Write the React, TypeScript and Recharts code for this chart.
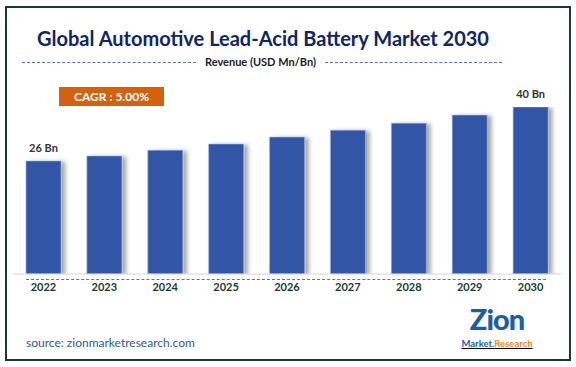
import { BarChart, Bar, XAxis, YAxis, LabelList } from 'recharts';

const years = ['2022', '2023', '2024', '2025', '2026', '2027', '2028', '2029', '2030'];
const revenue = [26, 27.3, 28.8, 30.4, 32.2, 34.0, 35.8, 37.9, 40];
const labels = ['26 Bn', '', '', '', '', '', '', '', '40 Bn'];

// the source chart's value axis does not start at zero
const AXIS_MIN = -3.3;

const data = years.map((year, i) => ({ year, value: revenue[i], label: labels[i] }));

const FONT = 'Lato, "Open Sans", sans-serif';
const BAR_COLOR = '#3257a5';
const DASH = '#4a74c4';

const dashed = (left: number, top: number, width: number) => (
  <div
    style={{
      position: 'absolute',
      left,
      top,
      width,
      height: 0,
      borderTop: `1px dashed ${DASH}`,
    }}
  />
);

const renderLabel = (props: any) => {
  const { x, y, width, value } = props;
  if (!value) return null;
  return (
    <text
      x={x + width / 2}
      y={y - 9}
      textAnchor="middle"
      fill="#333"
      fontSize={11}
      fontWeight={700}
      fontFamily={FONT}
    >
      {value}
    </text>
  );
};

export default function App() {
  return (
    <div
      style={{
        position: 'absolute',
        left: 0,
        top: 0,
        width: 576,
        height: 367,
        background: '#fff',
        fontFamily: FONT,
      }}
    >
      <div
        style={{
          position: 'absolute',
          left: 5,
          top: 6,
          width: 562,
          height: 351,
          border: '2px solid #1d3b2d',
        }}
      />
      <div
        style={{
          position: 'absolute',
          left: 0,
          width: 526,
          top: 26,
          textAlign: 'center',
          fontSize: 20,
          fontWeight: 700,
          color: '#0f2566',
        }}
      >
        Global Automotive Lead-Acid Battery Market 2030
      </div>
      {dashed(22, 62, 174)}
      {dashed(325, 62, 177)}
      <div
        style={{
          position: 'absolute',
          left: 196,
          width: 129,
          top: 55,
          textAlign: 'center',
          fontSize: 11,
          fontWeight: 700,
          color: '#222',
        }}
      >
        Revenue (USD Mn/Bn)
      </div>
      <div
        style={{
          position: 'absolute',
          left: 59,
          top: 87,
          width: 105,
          height: 19,
          background: '#d2620f',
          color: '#fff',
          fontSize: 12,
          fontWeight: 700,
          lineHeight: '19px',
          textAlign: 'center',
        }}
      >
        CAGR : 5.00%
      </div>

      <svg width={0} height={0} style={{ position: 'absolute' }}>
        <defs>
          <filter id="barShadow" x="-20%" y="-5%" width="150%" height="110%">
            <feDropShadow dx="4" dy="1" stdDeviation="2" floodColor="#000" floodOpacity="0.35" />
          </filter>
        </defs>
      </svg>

      <div style={{ position: 'absolute', left: 0, top: 0 }}>
        <BarChart
          width={576}
          height={367}
          data={data}
          margin={{ top: 107, right: 15, bottom: 63, left: 13 }}
          barSize={35}
        >
          <YAxis hide domain={[AXIS_MIN, 40]} type="number" allowDataOverflow />
          <XAxis
            dataKey="year"
            height={30}
            axisLine={{ stroke: '#d4d4d4' }}
            tickLine={false}
            tick={{ fill: '#1a3d2b', fontSize: 11, fontWeight: 700, fontFamily: FONT }}
            tickMargin={3}
          />
          <Bar
            dataKey={(d: any) => [AXIS_MIN, d.value]}
            fill={BAR_COLOR}
            stroke="#9fb1dc"
            strokeWidth={0.6}
            filter="url(#barShadow)"
            isAnimationActive={false}
          >
            <LabelList dataKey="label" content={renderLabel} />
          </Bar>
        </BarChart>
      </div>

      {dashed(26, 279, 520)}

      <div
        style={{
          position: 'absolute',
          left: 26,
          top: 335,
          fontSize: 12,
          color: '#2e5b9a',
        }}
      >
        source: zionmarketresearch.com
      </div>

      <div
        style={{
          position: 'absolute',
          left: 452,
          top: 305,
          width: 90,
          textAlign: 'center',
          fontSize: 29,
          fontWeight: 900,
          color: '#1b5ea8',
          lineHeight: '27px',
          letterSpacing: -1,
        }}
      >
        Zion
      </div>
      <div
        style={{
          position: 'absolute',
          left: 452,
          top: 339,
          width: 90,
          textAlign: 'center',
          fontSize: 9.5,
          fontWeight: 700,
          lineHeight: '10px',
          textDecoration: 'underline',
        }}
      >
        <span style={{ color: '#1b5ea8' }}>Market.</span>
        <span style={{ color: '#f08a1c' }}>Research</span>
      </div>
    </div>
  );
}
